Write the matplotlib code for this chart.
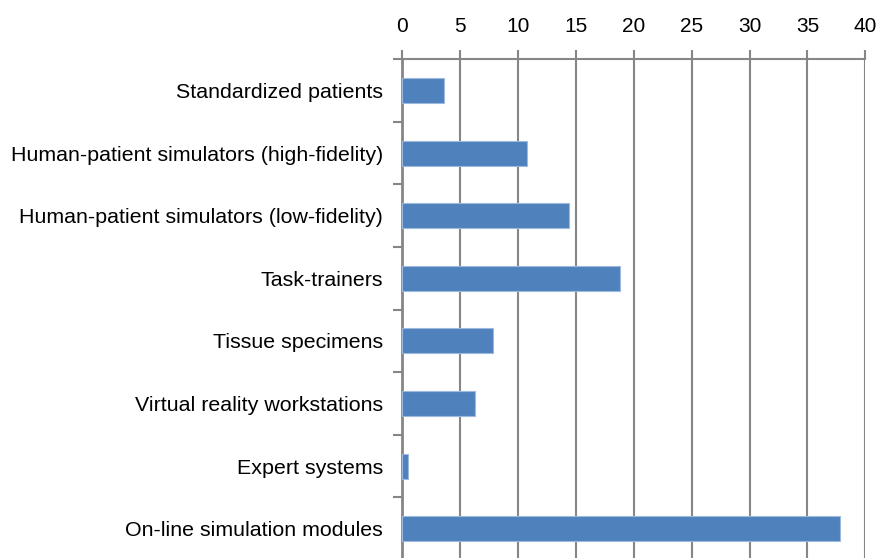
import numpy as np
import matplotlib
matplotlib.use("Agg")
import matplotlib.pyplot as plt

# data
categories = [
    "Standardized patients",
    "Human-patient simulators (high-fidelity)",
    "Human-patient simulators (low-fidelity)",
    "Task-trainers",
    "Tissue specimens",
    "Virtual reality workstations",
    "Expert systems",
    "On-line simulation modules",
]
values = [3.6, 10.8, 14.4, 18.8, 7.8, 6.3, 0.5, 37.8]
x_ticks = [0, 5, 10, 15, 20, 25, 30, 35, 40]

plt.rcParams["font.family"] = ["Liberation Sans", "DejaVu Sans"]

fig = plt.figure(figsize=(8.78, 5.58), dpi=100)
ax = fig.add_axes([0.4582, -0.0036, 0.5273, 0.8973])

y = np.arange(len(categories))
ax.barh(y, values, height=0.4, color="#4F81BD", edgecolor="#9DB9DD", linewidth=0.8, zorder=3)

ax.set_xlim(0, 40)
ax.set_ylim(len(categories) - 0.5, -0.5)

# x axis on top with vertical gridlines
ax.xaxis.tick_top()
ax.set_xticks(x_ticks)
ax.tick_params(axis="x", which="major", length=6.5, width=1.5, color="#868686",
               pad=10, labelsize=15, labelcolor="black")
ax.grid(axis="x", color="#868686", linewidth=1.5, zorder=0)

# category labels at centres, tick marks at the boundaries
ax.set_yticks(y)
ax.set_yticklabels(categories)
ax.set_yticks(np.arange(len(categories) + 1) - 0.5, minor=True)
ax.tick_params(axis="y", which="major", length=0, pad=14, labelsize=15.4)
ax.tick_params(axis="y", which="minor", length=6.5, width=1.5, color="#868686")

for side in ["right", "bottom"]:
    ax.spines[side].set_visible(False)
ax.spines["left"].set_color("#868686")
ax.spines["left"].set_linewidth(2)
ax.spines["top"].set_color("#868686")
ax.spines["top"].set_linewidth(1.5)

fig.savefig("out.png", dpi=100)
